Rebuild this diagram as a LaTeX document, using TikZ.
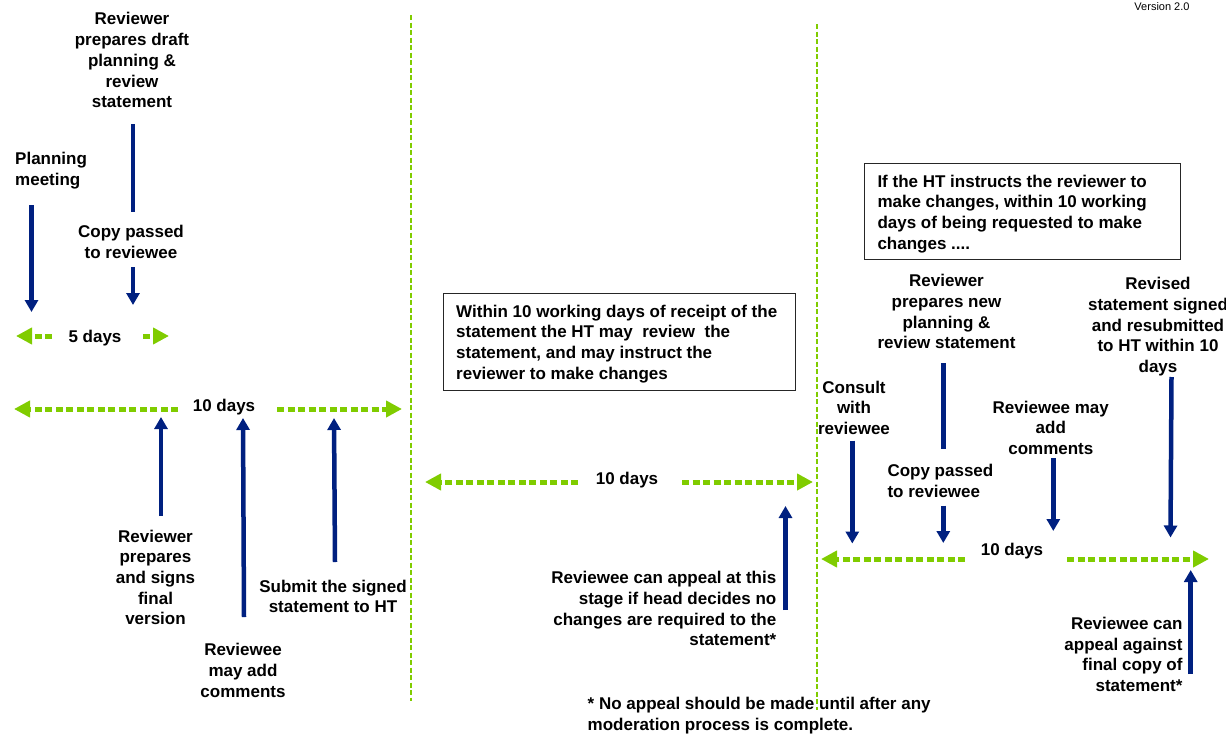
\documentclass[tikz,border=0pt]{standalone}
\usepackage{fontspec}
\setmainfont{Liberation Sans}
\usetikzlibrary{arrows.meta}
\definecolor{myNavy}{RGB}{0,32,128}
\definecolor{myGreen}{RGB}{128,204,0}
\tikzset{
  txt/.style={font=\bfseries\fontsize{17}{20.7}\selectfont, inner sep=0pt, align=center, text=black, yshift=-1.8pt},
  navarrow/.style={draw=myNavy, line width=4.5pt, -{Triangle[length=12pt,width=13pt]}},
  navline/.style={draw=myNavy, line width=4.5pt},
  grnarrow/.style={draw=myGreen, line width=5pt, dash pattern=on 7pt off 3.5pt, -{Triangle[length=16pt,width=16pt]}},
  sepline/.style={draw=myGreen, line width=2pt, dash pattern=on 5pt off 2.5pt},
  infobox/.style={draw=black!85, line width=1.2pt, inner sep=0pt, anchor=north west},
  boxtxt/.style={txt, align=left, anchor=west}
}
\begin{document}
\begin{tikzpicture}[x=1pt,y=-1pt]
\useasboundingbox (0,0) rectangle (1226,736);

% separators
\coordinate (s1t) at (411,15);  \coordinate (s1b) at (411,701);
\coordinate (s2t) at (817,24);  \coordinate (s2b) at (817,710);
\draw[sepline] (s1t) -- (s1b);
\draw[sepline] (s2t) -- (s2b);

% version
\node[font=\fontsize{11}{13}\selectfont, inner sep=0pt, anchor=base] (ver) at (1162,10) {Version 2.0};

% ---------- left section ----------
\node[txt, align=left, anchor=west] (plan) at (15,169) {Planning\\meeting};
\coordinate (a1s) at (31.5,205); \coordinate (a1e) at (31.5,312);
\draw[navarrow] (a1s) -- (a1e);

\node[txt] (draft) at (132,58.5) {Reviewer\\prepares draft\\planning \&\\review\\statement};
\coordinate (l1s) at (133,124); \coordinate (l1e) at (133,212);
\draw[navline] (l1s) -- (l1e);
\node[txt] (copy1) at (131,240) {Copy passed\\to reviewee};
\coordinate (a2s) at (133,267); \coordinate (a2e) at (133,305);
\draw[navarrow] (a2s) -- (a2e);

\node[txt] (five) at (95,336) {5 days};
\coordinate (g1a) at (52,336); \coordinate (g1b) at (16,336);
\coordinate (g1c) at (143,336); \coordinate (g1d) at (169,336);
\draw[grnarrow] (g1a) -- (g1b);
\draw[grnarrow] (g1c) -- (g1d);

\node[txt] (ten1) at (224,405) {10 days};
\coordinate (g2a) at (178,409); \coordinate (g2b) at (14,409);
\coordinate (g2c) at (277,409); \coordinate (g2d) at (402,409);
\draw[grnarrow] (g2a) -- (g2b);
\draw[grnarrow] (g2c) -- (g2d);

\node[txt] (final) at (155.5,575.6) {Reviewer\\prepares\\and signs\\final\\version};
\coordinate (u1s) at (161,516); \coordinate (u1e) at (161,417);
\draw[navarrow] (u1s) -- (u1e);

\node[txt] (comm1) at (243,668.7) {Reviewee\\may add\\comments};
\coordinate (u2s) at (244,617); \coordinate (u2e) at (243,418);
\draw[navarrow] (u2s) -- (u2e);

\node[txt] (submit) at (333,594.5) {Submit the signed\\statement to HT};
\coordinate (u3s) at (335,562); \coordinate (u3e) at (334,418);
\draw[navarrow] (u3s) -- (u3e);

% ---------- middle section ----------
\node[infobox, minimum width=352pt, minimum height=96.5pt] (box1) at (443,293) {};
\node[boxtxt] (box1txt) at (456,342)
 {Within 10 working days of receipt of the\\statement the HT may\ \ review\ \ the\\statement, and may instruct the\\reviewer to make changes};

\node[txt] (ten2) at (627,478) {10 days};
\coordinate (g3a) at (578,482); \coordinate (g3b) at (425,482);
\coordinate (g3c) at (682,482); \coordinate (g3d) at (813,482);
\draw[grnarrow] (g3a) -- (g3b);
\draw[grnarrow] (g3c) -- (g3d);

\node[txt, align=right, anchor=east] (appeal1) at (776.5,606.8)
 {Reviewee can appeal at this\\stage if head decides no\\changes are required to the\\statement*};
\coordinate (u4s) at (785.5,610); \coordinate (u4e) at (785.5,506);
\draw[navarrow] (u4s) -- (u4e);

\node[txt, align=left, anchor=west] (foot) at (587.5,713.8)
 {* No appeal should be made until after any\\moderation process is complete.};

% ---------- right section ----------
\node[infobox, minimum width=315.5pt, minimum height=96.5pt] (box2) at (864,162.5) {};
\node[boxtxt] (box2txt) at (877.3,212)
 {If the HT instructs the reviewer to\\make changes, within 10 working\\days of being requested to make\\changes ....};

\node[txt] (newplan) at (946.5,310) {Reviewer\\prepares new\\planning \&\\review statement};
\coordinate (l2s) at (943.3,363); \coordinate (l2e) at (943.3,449);
\draw[navline] (l2s) -- (l2e);
\node[txt, align=left, anchor=west] (copy2) at (887.3,478.8) {Copy passed\\to reviewee};
\coordinate (a3s) at (943.3,505.5); \coordinate (a3e) at (943.3,543);
\draw[navarrow] (a3s) -- (a3e);

\node[txt] (consult) at (854,406) {Consult\\with\\reviewee};
\coordinate (a4s) at (852.3,440.5); \coordinate (a4e) at (852.3,543.5);
\draw[navarrow] (a4s) -- (a4e);

\node[txt] (comm2) at (1050.8,426.1) {Reviewee may\\add\\comments};
\coordinate (a5s) at (1053.3,458); \coordinate (a5e) at (1053.3,531);
\draw[navarrow] (a5s) -- (a5e);

\node[txt] (revised) at (1158,324.9) {Revised\\statement signed\\and resubmitted\\to HT within 10\\days};
\coordinate (a6s) at (1171.5,377); \coordinate (a6e) at (1170.5,537.5);
\draw[navarrow] (a6s) -- (a6e);

\node[txt] (ten3) at (1012,549) {10 days};
\coordinate (g4a) at (965,559); \coordinate (g4b) at (821,559);
\coordinate (g4c) at (1067,559); \coordinate (g4d) at (1209,559);
\draw[grnarrow] (g4a) -- (g4b);
\draw[grnarrow] (g4c) -- (g4d);

\node[txt, align=right, anchor=east] (appeal2) at (1182.7,652.7)
 {Reviewee can\\appeal against\\final copy of\\statement*};
\coordinate (u5s) at (1190.7,674); \coordinate (u5e) at (1190.7,570);
\draw[navarrow] (u5s) -- (u5e);
\end{tikzpicture}
\end{document}
